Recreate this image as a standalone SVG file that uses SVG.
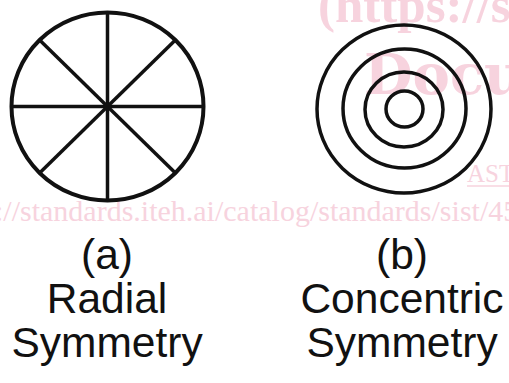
<svg xmlns="http://www.w3.org/2000/svg" width="509" height="383" viewBox="0 0 509 383">
<style>
.wm{fill:#f7d3de;font-family:"Liberation Serif",serif}
.wmb{font-weight:bold}
.shape{fill:none;stroke:#111;}
.lbl{font-family:"Liberation Sans",Arial,sans-serif;font-size:42.5px;fill:#111;text-anchor:middle}
</style>
<rect width="509" height="383" fill="#fff"/>
<g id="watermark">
<text class="wm wmb" x="318" y="22" font-size="51">(https://s</text>
<text class="wm wmb" x="364" y="94" font-size="56" style="font-family:'DejaVu Serif',serif">Docu</text>
<text class="wm" x="467" y="182" font-size="25">AST</text>
<line x1="467" y1="186" x2="509" y2="186" stroke="#f7d3de" stroke-width="1.5"/>
<text class="wm" x="-5" y="221" font-size="30">://standards.iteh.ai/catalog/standards/sist/45</text>
</g>
<g id="radial">
<ellipse class="shape" cx="107.5" cy="106.5" rx="96" ry="94" stroke-width="4"/>
<g stroke="#111" stroke-width="3.5">
<line x1="107.5" y1="12.5" x2="107.5" y2="200.5"/>
<line x1="11.5" y1="106.5" x2="203.5" y2="106.5"/>
<line x1="39.6" y1="40" x2="175.4" y2="173"/>
<line x1="175.4" y1="40" x2="39.6" y2="173"/>
</g>
<circle cx="107.5" cy="106.5" r="4" fill="#111"/>
</g>
<g id="concentric">
<ellipse class="shape" cx="404" cy="109" rx="87" ry="84" stroke-width="3.5"/>
<ellipse class="shape" cx="404.5" cy="108.5" rx="61.5" ry="59.5" stroke-width="3.5"/>
<ellipse class="shape" cx="404" cy="109.5" rx="39" ry="37.5" stroke-width="3.5"/>
<ellipse class="shape" cx="404.5" cy="109" rx="18.5" ry="18" stroke-width="3.5"/>
</g>
<g id="label-a">
<text class="lbl" x="107" y="269">(a)</text>
<text class="lbl" x="107" y="313">Radial</text>
<text class="lbl" x="107" y="357">Symmetry</text>
</g>
<g id="label-b">
<text class="lbl" x="402" y="269">(b)</text>
<text class="lbl" x="402" y="313">Concentric</text>
<text class="lbl" x="402" y="357">Symmetry</text>
</g>
</svg>
